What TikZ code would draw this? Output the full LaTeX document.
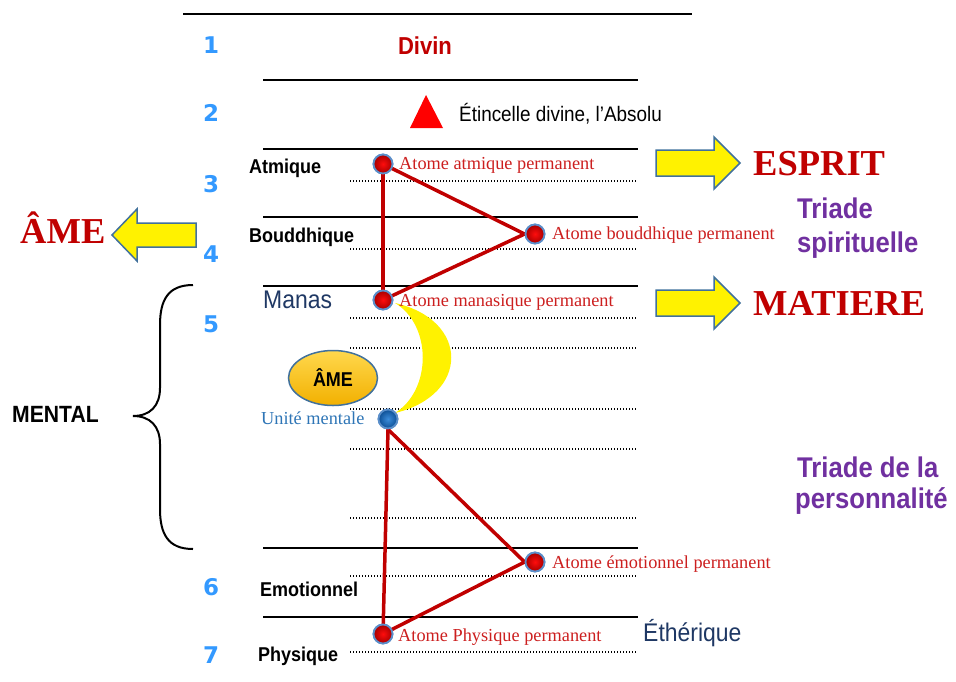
\documentclass[tikz,border=0pt]{standalone}
\usepackage{fontspec}
\setmainfont{Liberation Serif}
\newfontfamily\nar[FakeStretch=0.9]{Liberation Sans}
\newfontfamily\dejav{DejaVu Sans}
\usetikzlibrary{shapes.geometric}
\definecolor{numblue}{HTML}{3399FF}
\definecolor{darkred}{HTML}{C00000}
\definecolor{atomred}{HTML}{CC1F1F}
\definecolor{navy}{HTML}{1F3864}
\definecolor{umblue}{HTML}{2E75B6}
\definecolor{uminner}{HTML}{3C8DDB}
\definecolor{umouter}{HTML}{0D4F94}
\definecolor{purp}{HTML}{7030A0}
\definecolor{edgeblue}{HTML}{41719C}
\definecolor{atomedge}{HTML}{5B8FCA}
\definecolor{goldtop}{HTML}{FFD84D}
\definecolor{goldbot}{HTML}{F2B000}
\newcommand\fsz[1]{\fontsize{#1}{#1}\selectfont}
\begin{document}
\begin{tikzpicture}[x=1pt,y=-1pt,
  solidline/.style={line width=1.5pt},
  dotline/.style={line width=1.3pt, dash pattern=on 1.4pt off 1.6pt},
  num/.style={text=numblue, font=\dejav\bfseries\fsz{23}, anchor=base, inner sep=0pt},
  lvl/.style={font=\nar\bfseries\fsz{20}, anchor=base west, inner sep=0pt},
  alab/.style={text=atomred, font=\fsz{18.3}, anchor=base west, inner sep=0pt},
  atom/.style={circle, minimum size=19pt, inner sep=0pt, draw=atomedge, line width=1.8pt,
     inner color=red!95!white, outer color=red!65!black},
  batom/.style={atom, inner color=uminner, outer color=umouter},
  redline/.style={draw=darkred, line width=3.5pt, line cap=round},
  bigarrow/.style={fill=yellow, draw=edgeblue, line width=1.5pt, line join=miter},
  bigword/.style={text=darkred, font=\bfseries\fsz{36.5}, anchor=base west, inner sep=0pt},
  triade/.style={text=purp, font=\nar\bfseries\fsz{28.5}, anchor=base west, inner sep=0pt}
]
\useasboundingbox (0,0) rectangle (956,681);

% solid plane lines
\draw[solidline] (183,14) -- (692,14);
\foreach \y in {80,149,217,286,548,617} \draw[solidline] (263,\y) -- (638,\y);
% dotted sub-plane lines
\foreach \y in {181,249,318,348,409,449,518,576,652} \draw[dotline] (350,\y) -- (636,\y);

% numbers
\node[num] (n1) at (211,53) {1};
\node[num] (n2) at (211,121) {2};
\node[num] (n3) at (211,192) {3};
\node[num] (n4) at (211,262) {4};
\node[num] (n5) at (211,332) {5};
\node[num] (n6) at (211,595) {6};
\node[num] (n7) at (211,663) {7};

% top texts
\node[text=darkred, font=\nar\bfseries\fsz{24.5}, anchor=base, inner sep=0pt] (divin) at (425,54) {Divin};
\fill[red] (426,95) -- (443,128) -- (410,128) -- cycle;
\node[font=\nar\fsz{21}, anchor=base west, inner sep=0pt] (etin) at (459,121) {Étincelle divine, l’Absolu};

% level labels
\node[lvl] (atmq) at (249,173) {Atmique};
\node[lvl] (boud) at (249,242) {Bouddhique};
\node[text=navy, font=\nar\fsz{25.5}, anchor=base west, inner sep=0pt] (manas) at (263,308) {Manas};
\node[lvl] (emot) at (260,596) {Emotionnel};
\node[lvl] (phys) at (258,661) {Physique};
\node[text=navy, font=\nar\fsz{25.5}, anchor=base west, inner sep=0pt] (ether) at (643,641) {Éthérique};

% atom coordinates
\coordinate (pA) at (383,164);
\coordinate (pB) at (535,234);
\coordinate (pM) at (383,300);
\coordinate (pU) at (388,419);
\coordinate (pE) at (535,562);
\coordinate (pP) at (383,634);

% crescent
\fill[yellow] (395,303) .. controls (470,320) and (470,395) .. (395,413)
   .. controls (432,390) and (432,325) .. (395,303) -- cycle;

% ellipse AME
\node[ellipse, minimum width=89pt, minimum height=55pt, inner sep=0pt,
  top color=goldtop, bottom color=goldbot,
  draw=edgeblue, line width=1.5pt, font=\nar\bfseries\fsz{20}] (ame) at (333,378) {ÂME};

% atoms (named, used as connector ends)
\path (pA) node[atom] (aA) {} (pB) node[atom] (aB) {} (pM) node[atom] (aM) {}
      (pU) node[batom] (aU) {} (pE) node[atom] (aE) {} (pP) node[atom] (aP) {};

% triangles
\draw[redline] (aA.center) -- (aB.west) -- (aM.center);
\draw[redline] (aA.center) -- (aM.center);
\draw[redline] (aU.south) -- (aE.west) -- (aP.center);
\draw[redline] (aU.south) -- (aP.center);
% atoms drawn again above the lines
\path (pA) node[atom] {} (pB) node[atom] {} (pM) node[atom] {}
      (pU) node[batom] {} (pE) node[atom] {} (pP) node[atom] {};

% atom labels
\node[alab] (lA) at (399,169) {Atome atmique permanent};
\node[alab] (lB) at (552,239) {Atome bouddhique permanent};
\node[alab] (lM) at (399,306) {Atome manasique permanent};
\node[alab, text=umblue] (lU) at (261,424) {Unité mentale};
\node[alab] (lE) at (552,568) {Atome émotionnel permanent};
\node[alab] (lP) at (398,641) {Atome Physique permanent};

% brace
\draw[line width=2pt] (193,285) .. controls (168,285) and (160,300) .. (160,325) -- (160,388)
  .. controls (160,406) and (150,416) .. (133,416)
  .. controls (150,416) and (160,426) .. (160,444) -- (160,509)
  .. controls (160,534) and (168,549) .. (193,549);
\node[font=\nar\bfseries\fsz{23.5}, anchor=base west, inner sep=0pt] (mental) at (12,422) {MENTAL};

% block arrows
\draw[bigarrow] (656,150) -- (714,150) -- (714,137) -- (740,163) -- (714,189) -- (714,176) -- (656,176) -- cycle;
\draw[bigarrow] (656,290) -- (714,290) -- (714,277) -- (740,303) -- (714,329) -- (714,316) -- (656,316) -- cycle;
\draw[bigarrow] (196,223) -- (137,223) -- (137,209) -- (112,235) -- (137,261) -- (137,247) -- (196,247) -- cycle;

% big words
\node[bigword] (esprit) at (753,175) {ESPRIT};
\node[bigword] (matiere) at (753,315) {MATIERE};
\node[bigword] (amel) at (20,243) {ÂME};

% triades
\node[triade] (t1) at (797,218) {Triade};
\node[triade] (t2) at (797,252) {spirituelle};
\node[triade] (t3) at (797,477) {Triade de la};
\node[triade] (t4) at (795,508) {personnalité};
\end{tikzpicture}
\end{document}
